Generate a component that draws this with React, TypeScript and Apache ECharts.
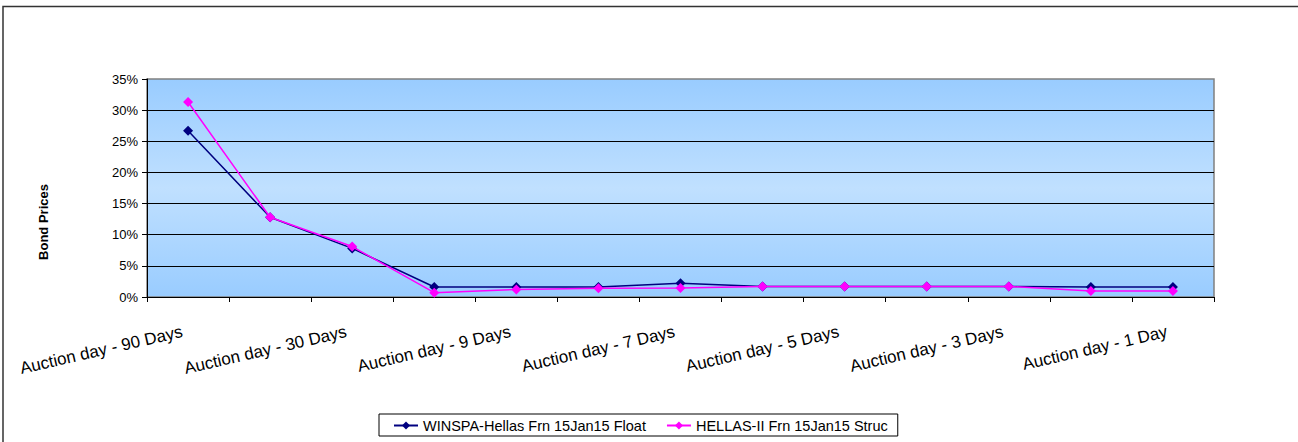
import React, { useEffect, useRef } from "react";
import * as echarts from "echarts";

const categories = [
  "Auction day - 90 Days",
  "Auction day - 60 Days",
  "Auction day - 30 Days",
  "Auction day - 10 Days",
  "Auction day - 9 Days",
  "Auction day - 8 Days",
  "Auction day - 7 Days",
  "Auction day - 6 Days",
  "Auction day - 5 Days",
  "Auction day - 4 Days",
  "Auction day - 3 Days",
  "Auction day - 2 Days",
  "Auction day - 1 Day",
];

const winspaValues = [26.7, 12.8, 7.8, 1.6, 1.6, 1.6, 2.2, 1.7, 1.7, 1.7, 1.7, 1.6, 1.6];
const hellasValues = [31.3, 12.8, 8.1, 0.7, 1.2, 1.4, 1.45, 1.7, 1.7, 1.7, 1.7, 0.95, 0.95];

const seriesNames = ["WINSPA-Hellas Frn 15Jan15 Float", "HELLAS-II Frn 15Jan15 Struc"];
const yAxisTitle = "Bond Prices";

const FONT = "'Liberation Sans', Arial, sans-serif";

export default function App() {
  const ref = useRef<HTMLDivElement>(null);

  useEffect(() => {
    document.body.style.margin = "0";
    if (!ref.current) return;
    const chart = echarts.init(ref.current, null, { renderer: "svg" });
    chart.setOption({
      animation: false,
      backgroundColor: "#ffffff",
      textStyle: { fontFamily: FONT },
      grid: {
        left: 147,
        right: 84,
        top: 79,
        bottom: 145,
        show: true,
        borderColor: "#808080",
        borderWidth: 1.5,
        backgroundColor: new echarts.graphic.LinearGradient(0, 0, 0, 1, [
          { offset: 0, color: "#99ccff" },
          { offset: 0.5, color: "#c0e0ff" },
          { offset: 1, color: "#99ccff" },
        ]),
      },
      legend: {
        left: 379,
        top: 414,
        orient: "horizontal",
        borderColor: "#000",
        borderWidth: 1,
        padding: [4, 10, 3, 14],
        itemWidth: 24,
        itemHeight: 10,
        itemGap: 20,
        textStyle: { fontFamily: FONT, fontSize: 14.5, color: "#000" },
        data: seriesNames,
      },
      xAxis: {
        type: "category",
        data: categories,
        boundaryGap: true,
        axisLine: { lineStyle: { color: "#000", width: 1 } },
        axisTick: { show: true, interval: 0, length: 5, lineStyle: { color: "#000" } },
        axisLabel: {
          interval: 1,
          rotate: 13,
          margin: 33,
          padding: [0, 6, 0, 0],
          fontSize: 17,
          color: "#000",
          fontFamily: FONT,
        },
        splitLine: { show: false },
      },
      yAxis: {
        type: "value",
        min: 0,
        max: 35,
        interval: 5,
        axisLine: { show: true, lineStyle: { color: "#000", width: 1 } },
        axisTick: { show: true, length: 5, lineStyle: { color: "#000" } },
        axisLabel: {
          formatter: "{value}%",
          fontSize: 13,
          color: "#000",
          margin: 9,
          fontFamily: FONT,
        },
        splitLine: {
          show: true,
          showMaxLine: false,
          lineStyle: { color: "#000", width: 1 },
        },
      },
      graphic: [
        {
          type: "polyline",
          silent: true,
          shape: { points: [[3, 460], [3, 6.5], [1320, 6.5]] },
          style: { fill: "none", stroke: "#333", lineWidth: 1.5 },
        },
        {
          type: "text",
          silent: true,
          x: 43,
          y: 222,
          rotation: Math.PI / 2,
          style: {
            text: yAxisTitle,
            fontFamily: FONT,
            fontSize: 13,
            fontWeight: "bold",
            fill: "#000",
            align: "center",
            verticalAlign: "middle",
          },
        },
      ],
      series: [
        {
          name: seriesNames[0],
          type: "line",
          data: winspaValues,
          symbol: "diamond",
          symbolSize: 10,
          itemStyle: { color: "#000080" },
          lineStyle: { color: "#000080", width: 1.5 },
          z: 2,
        },
        {
          name: seriesNames[1],
          type: "line",
          data: hellasValues,
          symbol: "diamond",
          symbolSize: 10,
          itemStyle: { color: "#ff00ff" },
          lineStyle: { color: "#ff00ff", width: 1.5 },
          z: 3,
        },
      ],
    });
    return () => chart.dispose();
  }, []);

  return <div ref={ref} style={{ width: 1298, height: 442 }} />;
}
